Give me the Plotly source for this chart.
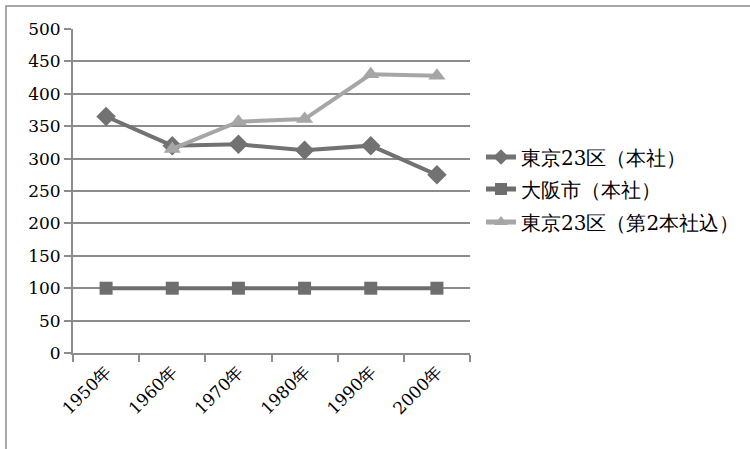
import plotly.graph_objects as go

# Data
years = ["1950年", "1960年", "1970年", "1980年", "1990年", "2000年"]
tokyo_hq = [365, 320, 322, 313, 320, 275]
osaka_hq = [100, 100, 100, 100, 100, 100]
tokyo_incl_second = [None, 315, 357, 361, 430, 428]

W, H = 750, 449
ML, MR, MT, MB = 73, 280, 29, 96
PW, PH = W - ML - MR, H - MT - MB

serif = "DejaVu Serif"
grid_col = "#8c8c8c"

fig = go.Figure()

series = [
    ("東京23区（本社）", tokyo_hq, "#727272", "diamond", 15, "legend"),
    ("大阪市（本社）", osaka_hq, "#6e6e6e", "square", 13, "legend2"),
    ("東京23区（第2本社込）", tokyo_incl_second, "#a6a6a6", "triangle-up", 15, "legend3"),
]
for name, vals, col, sym, size, leg in series:
    fig.add_trace(go.Scatter(
        x=years, y=vals, name=name, mode="lines+markers",
        line=dict(color=col, width=4),
        marker=dict(symbol=sym, size=size, color=col),
        connectgaps=False, legend=leg, showlegend=True,
    ))

def px_x(px):
    return (px - ML) / PW

def px_y(py):
    return 1 - (py - MT) / PH

legend_common = dict(
    xanchor="left", yanchor="middle", bgcolor="rgba(0,0,0,0)",
    itemsizing="constant",
    font=dict(family=serif, size=20, color="#000"),
)
fig.update_layout(
    width=W, height=H,
    margin=dict(l=ML, r=MR, t=MT, b=MB, autoexpand=False),
    paper_bgcolor="white", plot_bgcolor="white",
    font=dict(family=serif, size=17, color="#000"),
    showlegend=True,
    legend=dict(x=px_x(481), y=px_y(157), **legend_common),
    legend2=dict(x=px_x(481), y=px_y(189), **legend_common),
    legend3=dict(x=px_x(481), y=px_y(222), **legend_common),
    xaxis=dict(
        type="category", tickson="boundaries", ticks="outside", ticklen=7,
        tickcolor=grid_col, tickwidth=2, showline=True, linecolor=grid_col,
        linewidth=2, showgrid=False, tickangle=-45,
        tickfont=dict(family=serif, size=17), range=[-0.5, 5.5],
    ),
    yaxis=dict(
        range=[0, 500], dtick=50, ticks="outside", ticklen=7,
        tickcolor=grid_col, tickwidth=2, showline=True, linecolor=grid_col,
        linewidth=2, showgrid=True, gridcolor=grid_col, gridwidth=1.5,
        zeroline=False, tickfont=dict(family=serif, size=17),
    ),
)

# Outer chart frame
fig.add_shape(
    type="rect", xref="paper", yref="paper",
    x0=px_x(6), x1=px_x(760), y0=px_y(460), y1=px_y(6),
    line=dict(color="#8c8c8c", width=1.5), fillcolor="rgba(0,0,0,0)",
    layer="below",
)

fig.write_html("out.html")
